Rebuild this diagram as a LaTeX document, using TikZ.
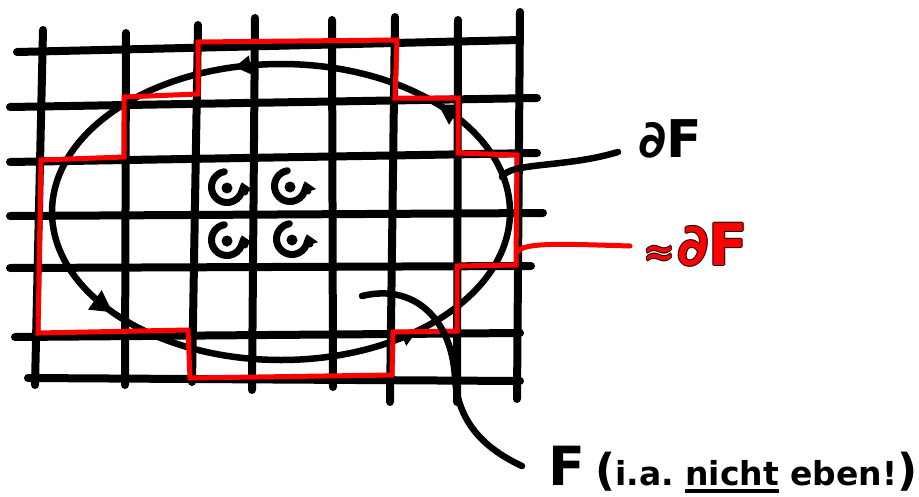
\documentclass[tikz,border=0pt]{standalone}
\usepackage{fontspec}
\newfontfamily\hand{DejaVu Sans}
\usetikzlibrary{arrows.meta,decorations.markings}
\newcommand\thickul[1]{\setbox0\hbox{#1}\rlap{\raisebox{-8pt}{\rule{\wd0}{4.5pt}}}\box0}
\newcommand\redoutl[1]{\leavevmode
  \rlap{\kern-1pt\color{black}#1}\rlap{\kern1pt\color{black}#1}%
  \rlap{\raisebox{1pt}{\color{black}#1}}\rlap{\raisebox{-1pt}{\color{black}#1}}%
  {\color{red}#1}}
\begin{document}
\begin{tikzpicture}[x=1pt,y=-1pt,
  gridline/.style={line width=8pt,line cap=round,black},
  redline/.style={line width=5pt,red,line join=miter,line cap=round},
  curveline/.style={line width=6.5pt,line cap=round,black},
  label/.style={inner sep=0pt,font=\hand\bfseries},
  rotsym/.style={line width=7pt,line cap=round,-{Triangle[length=11pt,width=16pt]}}
]
\useasboundingbox (0,0) rectangle (919,496);
\fill[white] (0,0) rectangle (919,496);

% grid
\foreach \xa/\ya/\xb/\yb in {43/30/35/385,126/33/125/385,198/25/192/382,255/18/252/390,
  332/20/333/387,395/17/390/402,458/20/457/402,520/12/517/399}
  \draw[gridline] (\xa,\ya) -- (\xb,\yb);
\foreach \xa/\ya/\xb/\yb in {17/52/520/40,10/107/537/98,10/162/537/153,10/216/543/213,
  10/268/531/266,15/337/520/333,28/378/520/381}
  \draw[gridline] (\xa,\ya) -- (\xb,\yb);

% region boundary with orientation
\coordinate (ctr) at (281,212);
\draw[curveline,postaction={decorate},decoration={markings,
  mark=at position 0.133 with {\arrowreversed{Triangle[length=16pt,width=16pt]}},
  mark=at position 0.398 with {\arrowreversed{Triangle[length=22pt,width=22pt]}},
  mark=at position 0.711 with {\arrowreversed{Triangle[length=16pt,width=18pt]}},
  mark=at position 0.887 with {\arrowreversed{Triangle[length=20pt,width=22pt]}}}]
  (ctr) ellipse [x radius=229, y radius=148];

% small circulations
\foreach \n/\cx/\cy in {a/227/187,b/290/186,c/227/240,d/292/239}{
  \coordinate (s\n) at (\cx,\cy);
  \draw[rotsym] (s\n) ++(-100:15.5) arc[start angle=-100,end angle=-378,radius=15.5];
  \fill (s\n) ++(0,1) circle[radius=5.5];
}

% red staircase approximation
\draw[redline] (198,42) -- (397,40) -- (395,98) -- (458,98) -- (458,153) -- (517,155)
  -- (516,265) -- (457,266) -- (457,331) -- (393,332) -- (392,375) -- (190,378)
  -- (188,330) -- (38,333) -- (41,160) -- (124,157) -- (124,97) -- (198,94) -- cycle;

% labels
\node[label,anchor=base west] (lbd) at (638,157) {\fontsize{52}{58}\selectfont ∂F};
\node[label,anchor=base west] (lbr) at (643,265)
  {\redoutl{{\fontsize{38}{42}\selectfont ≈}\kern2pt{\fontsize{58}{64}\selectfont ∂F}}};
\node[label,anchor=base west] (lbf) at (548,485)
  {{\fontsize{54}{60}\selectfont F}\kern10pt{\fontsize{44}{50}\selectfont (}{\fontsize{33}{38}\selectfont i.a.\ \thickul{nicht}\ eben!}{\fontsize{44}{50}\selectfont )}};

% connectors
\coordinate (d1) at (502,177); \coordinate (d2) at (618,152);
\draw[curveline] (d1) .. controls (510,162) and (565,168) .. (d2);
\coordinate (r1) at (518,252); \coordinate (r2) at (630,246);
\draw[line width=5pt,red,line cap=round] (r1) .. controls (522,242) and (565,244) .. (r2);
\coordinate (f1) at (362,296); \coordinate (f2) at (522,466);
\draw[curveline] (f1) .. controls (415,283) and (452,320) .. (455,378)
  .. controls (458,428) and (492,452) .. (f2);
\end{tikzpicture}
\end{document}
